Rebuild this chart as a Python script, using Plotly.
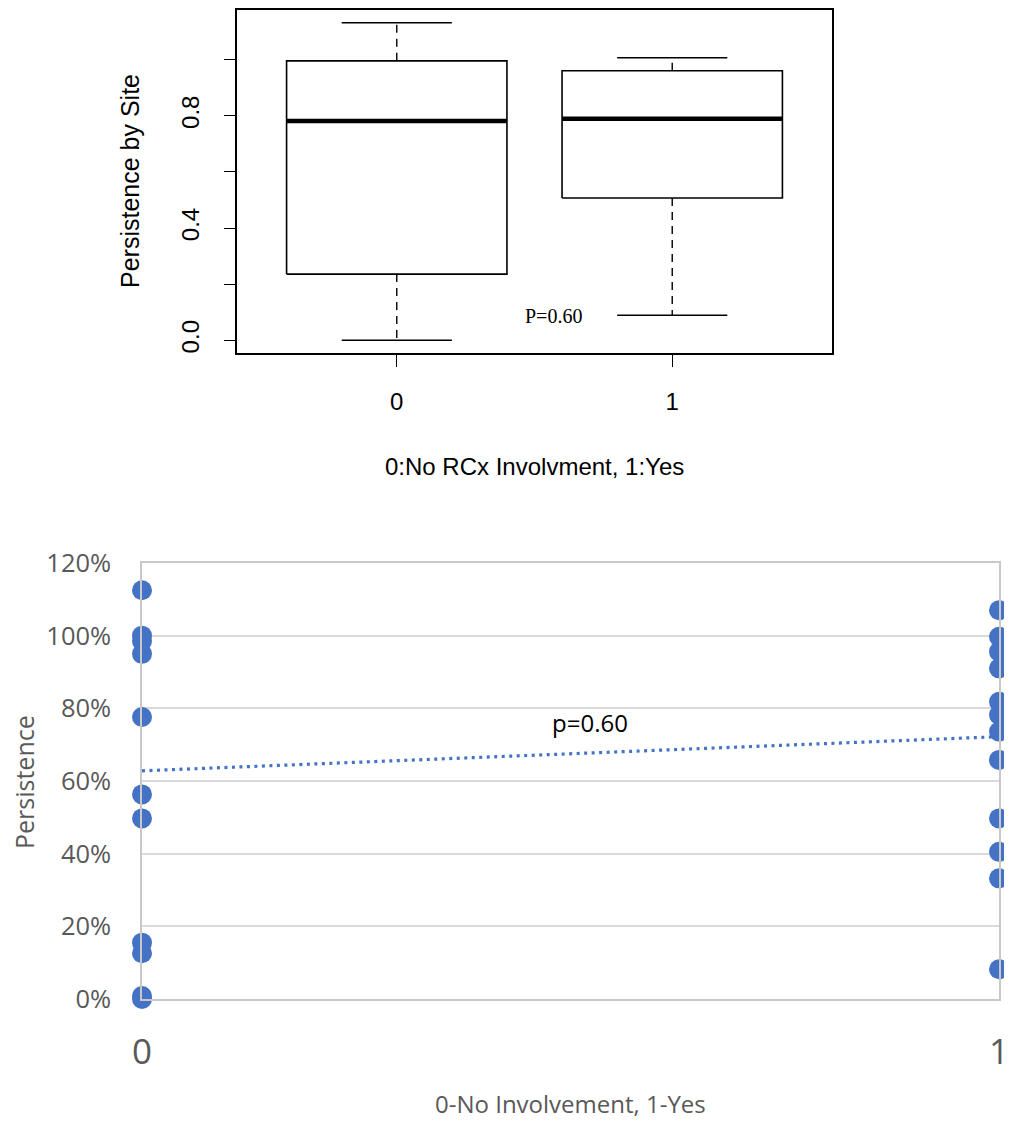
import plotly.graph_objects as go

# The page body has an 8px margin, so every reference pixel position is
# shifted by that offset inside the figure.
PAGE_W, PAGE_H = 1012, 1121
OFF = 8
W, H = PAGE_W, PAGE_H - OFF

# ---------------- data: top panel (R boxplot summary) ----------------
box_groups = ["0", "1"]
box_lower_whisker = [0.0, 0.089]
box_q1 = [0.236, 0.507]
box_median = [0.782, 0.790]
box_q3 = [0.996, 0.961]
box_upper_whisker = [1.132, 1.007]
box_p_text = "P=0.60"
box_p_pos = [1.57, 0.087]
box_yticks = [0.0, 0.2, 0.4, 0.6, 0.8, 1.0]
box_yticklabels = ["0.0", "", "0.4", "", "0.8", ""]

# ---------------- data: bottom panel (Excel scatter) ----------------
group0_values = [1.125, 1.0, 0.985, 0.95, 0.776, 0.563, 0.497, 0.155, 0.126, 0.008, 0.0]
group1_values = [1.07, 0.997, 0.956, 0.910, 0.818, 0.782, 0.736, 0.658, 0.497, 0.405, 0.332, 0.082]
trend_x = [0, 1]
trend_y = [0.628, 0.722]
scatter_yticks = [0, 0.2, 0.4, 0.6, 0.8, 1.0, 1.2]
scatter_xticks = [0, 1]
scatter_p_text = "p=0.60"
scatter_p_pos = [0.523, 0.762]

fig = go.Figure()

# ---- top boxplot drawn with line traces ----
BOXW = 0.4
STAPLE = 0.2
for i, g in enumerate(box_groups):
    c = i + 1
    fig.add_trace(go.Scatter(
        x=[c - BOXW, c + BOXW, c + BOXW, c - BOXW, c - BOXW],
        y=[box_q1[i], box_q1[i], box_q3[i], box_q3[i], box_q1[i]],
        mode="lines", line=dict(color="black", width=1.6),
        xaxis="x", yaxis="y", showlegend=False, hoverinfo="skip"))
    fig.add_trace(go.Scatter(
        x=[c - BOXW, c + BOXW], y=[box_median[i], box_median[i]],
        mode="lines", line=dict(color="black", width=4.5),
        xaxis="x", yaxis="y", showlegend=False, hoverinfo="skip"))
    fig.add_trace(go.Scatter(
        x=[c, c], y=[box_q3[i], box_upper_whisker[i]],
        mode="lines", line=dict(color="black", width=1.4, dash="8px,6px"),
        xaxis="x", yaxis="y", showlegend=False, hoverinfo="skip"))
    fig.add_trace(go.Scatter(
        x=[c, c], y=[box_q1[i], box_lower_whisker[i]],
        mode="lines", line=dict(color="black", width=1.4, dash="8px,6px"),
        xaxis="x", yaxis="y", showlegend=False, hoverinfo="skip"))
    for v in (box_upper_whisker[i], box_lower_whisker[i]):
        fig.add_trace(go.Scatter(
            x=[c - STAPLE, c + STAPLE], y=[v, v],
            mode="lines", line=dict(color="black", width=1.6),
            xaxis="x", yaxis="y", showlegend=False, hoverinfo="skip"))

# ---- bottom scatter ----
BLUE = "#4472C4"
fig.add_trace(go.Scatter(
    x=trend_x, y=trend_y, mode="lines",
    line=dict(color=BLUE, width=3.2, dash="3px,4.5px"),
    xaxis="x2", yaxis="y2", showlegend=False, cliponaxis=False))
fig.add_trace(go.Scatter(
    x=[scatter_xticks[0]] * len(group0_values), y=group0_values,
    mode="markers", marker=dict(color=BLUE, size=20),
    xaxis="x2", yaxis="y2", showlegend=False, cliponaxis=False))
fig.add_trace(go.Scatter(
    x=[scatter_xticks[1]] * len(group1_values), y=group1_values,
    mode="markers", marker=dict(color=BLUE, size=20),
    xaxis="x2", yaxis="y2", showlegend=False, cliponaxis=False))

ARIAL = "Liberation Sans, Arial, sans-serif"
CAL = "Open Sans, Lato, sans-serif"
GREY = "#595959"

def px(x):
    return (x - OFF) / W

def py(y):
    return 1 - (y - OFF) / H

fig.update_layout(
    width=W, height=H,
    margin=dict(l=0, r=0, t=0, b=0, pad=0, autoexpand=False),
    paper_bgcolor="white", plot_bgcolor="white",
    xaxis=dict(
        domain=[px(237), px(832)], range=[0.42, 2.58], anchor="y",
        tickvals=[1, 2], ticktext=box_groups, automargin=False,
        ticks="outside", ticklen=12, tickwidth=1.4, tickcolor="black",
        showline=True, mirror=True, linecolor="black", linewidth=1.8,
        showgrid=False, zeroline=False,
        tickfont=dict(family=ARIAL, size=24, color="black"),
        ticklabelstandoff=14,
    ),
    yaxis=dict(
        domain=[py(353), py(10)], range=[-0.0453, 1.1773], anchor="x",
        tickvals=box_yticks, ticktext=box_yticklabels, tickangle=-90,
        automargin=False,
        ticks="outside", ticklen=11, tickwidth=1.4, tickcolor="black",
        showline=True, mirror=True, linecolor="black", linewidth=1.8,
        showgrid=False, zeroline=False,
        tickfont=dict(family=ARIAL, size=24, color="black"),
        ticklabelstandoff=16,
    ),
    xaxis2=dict(
        domain=[px(142), px(999)], range=[0, 1], anchor="y2",
        tickvals=scatter_xticks, ticktext=[str(v) for v in scatter_xticks],
        automargin=False,
        ticks="", showgrid=True, gridcolor="#d9d9d9", gridwidth=1.5,
        showline=True, mirror=True, linecolor="#c8c8c8", linewidth=1.5,
        zeroline=False,
        tickfont=dict(family=CAL, size=35, color=GREY),
        ticklabelstandoff=21,
    ),
    yaxis2=dict(
        domain=[py(999), py(563)], range=[0, 1.2], anchor="x2",
        tickvals=scatter_yticks, tickformat=".0%", automargin=False,
        ticks="", showgrid=True, gridcolor="#d9d9d9", gridwidth=1.5,
        showline=True, mirror=True, linecolor="#c8c8c8", linewidth=1.5,
        zeroline=False,
        tickfont=dict(family=CAL, size=25.5, color=GREY),
        ticklabelstandoff=24,
    ),
    annotations=[
        dict(text="0:No RCx Involvment, 1:Yes", xref="paper", yref="paper",
             x=px(534), y=py(466), xanchor="center", yanchor="middle",
             showarrow=False, font=dict(family=ARIAL, size=24, color="black")),
        dict(text="Persistence by Site", xref="paper", yref="paper",
             x=px(130), y=py(181), xanchor="center", yanchor="middle", textangle=-90,
             showarrow=False, font=dict(family=ARIAL, size=25, color="black")),
        dict(text=box_p_text, xref="x", yref="y",
             x=box_p_pos[0], y=box_p_pos[1], xanchor="center", yanchor="middle",
             showarrow=False, font=dict(family="Liberation Serif, Times New Roman, serif", size=20, color="black")),
        dict(text=scatter_p_text, xref="x2", yref="y2",
             x=scatter_p_pos[0], y=scatter_p_pos[1], xanchor="center", yanchor="middle",
             showarrow=False, font=dict(family=CAL, size=24, color="black")),
        dict(text="0-No Involvement, 1-Yes", xref="paper", yref="paper",
             x=px(570), y=py(1103), xanchor="center", yanchor="middle",
             showarrow=False, font=dict(family=CAL, size=24, color=GREY)),
        dict(text="Persistence", xref="paper", yref="paper",
             x=px(24), y=py(782), xanchor="center", yanchor="middle", textangle=-90,
             showarrow=False, font=dict(family=CAL, size=25, color=GREY)),
    ],
)

fig.write_html("out.html")
